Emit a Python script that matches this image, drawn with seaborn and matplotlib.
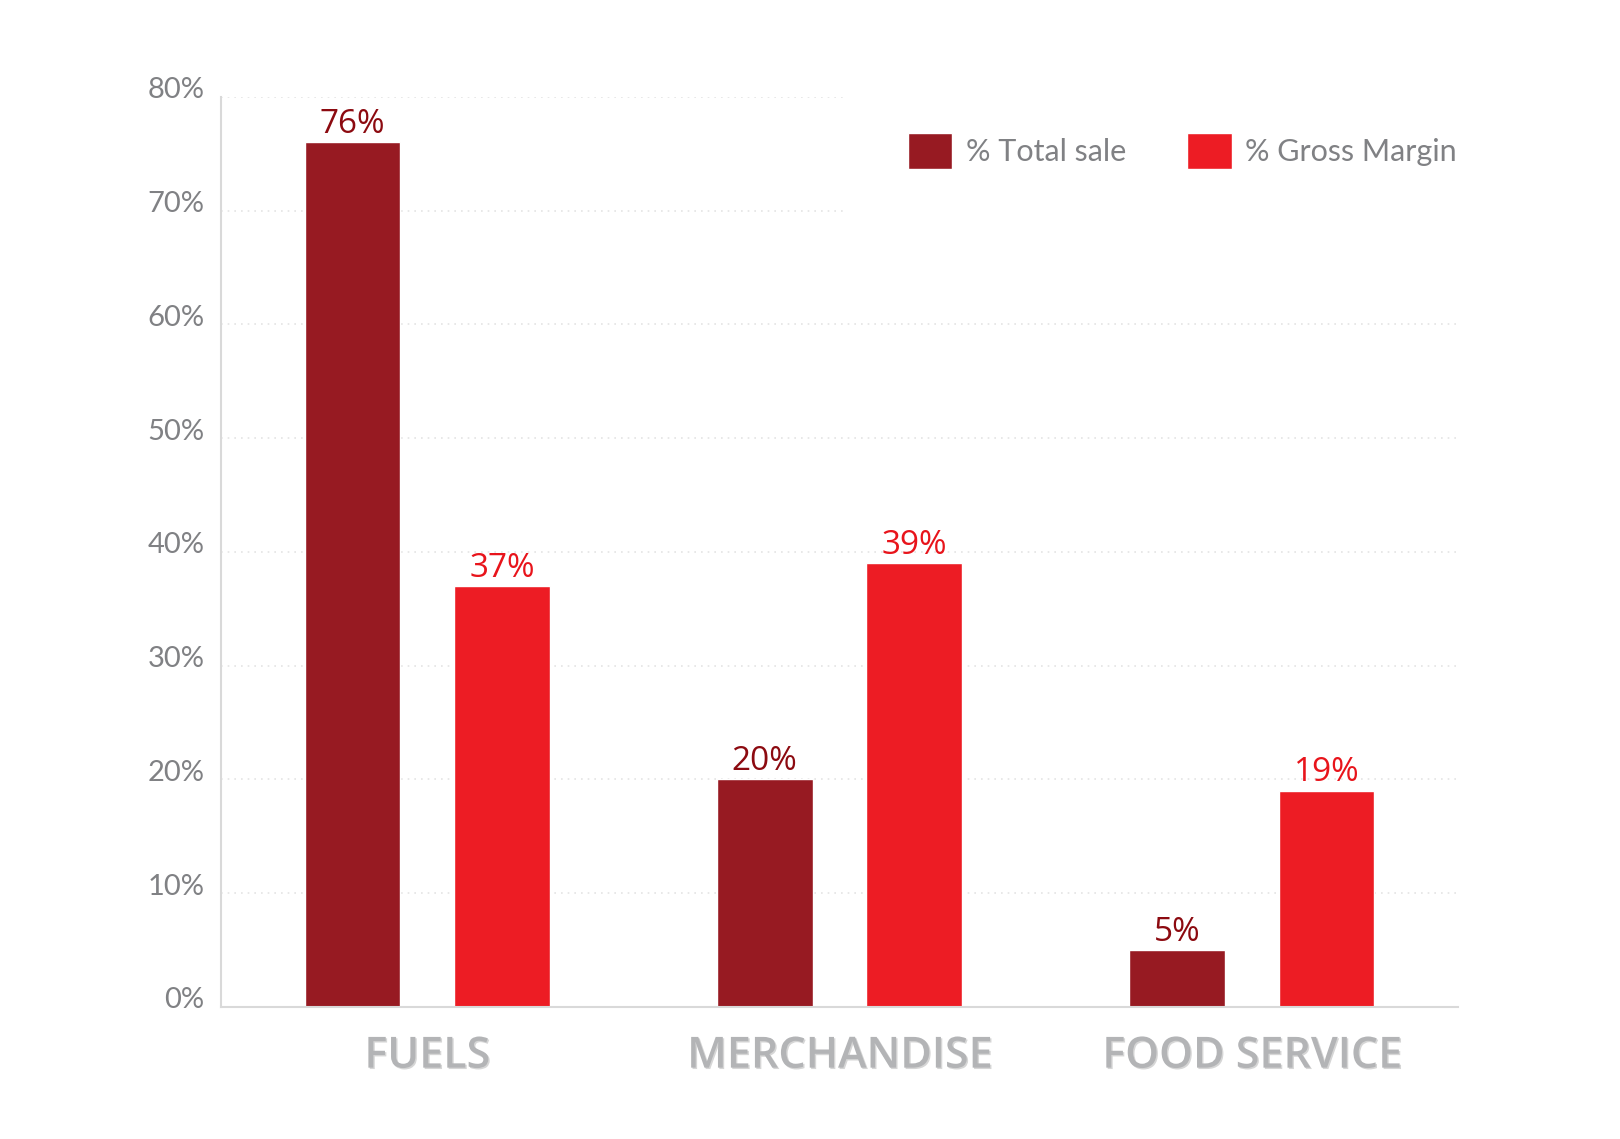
import matplotlib
matplotlib.use("Agg")
import matplotlib.pyplot as plt
import matplotlib.transforms as mtransforms
import matplotlib.patheffects as pe
import seaborn as sns
import pandas as pd

categories = ["FUELS", "MERCHANDISE", "FOOD SERVICE"]
series_names = ["% Total sale", "% Gross Margin"]
total_sale = [76, 20, 5]
gross_margin = [37, 39, 19]
y_ticks = [0, 10, 20, 30, 40, 50, 60, 70, 80]

dark = "#971a22"
light = "#ed1c24"
label_colors = ["#8c0a10", "#e8141b"]

rows = []
for c, v in zip(categories, total_sale):
    rows.append({"cat": c, "series": series_names[0], "val": v})
for c, v in zip(categories, gross_margin):
    rows.append({"cat": c, "series": series_names[1], "val": v})
df = pd.DataFrame(rows)

sns.set_theme(style="white")
plt.rcParams["font.family"] = ["Lato", "DejaVu Sans"]

fig = plt.figure(figsize=(16.2, 11.39), dpi=100)
ax = fig.add_axes([0.1364, 0.116, 0.900 - 0.1364, 0.915 - 0.116])

sns.barplot(data=df, x="cat", y="val", hue="series", order=categories,
            hue_order=series_names, palette=[dark, light], width=0.725,
            gap=0.36, saturation=1, ax=ax, legend=True)

ax.set_xlim(-0.5, 2.5)
ax.set_ylim(0, 80)
ax.set_yticks(y_ticks)
ax.set_yticklabels([f"{t}%" for t in y_ticks])
ax.set_xlabel("")
ax.set_ylabel("")

# grid
ax.yaxis.grid(True, color="#e4e4e4", linestyle=(0, (1, 3)), linewidth=1.2)
ax.set_axisbelow(True)
for s in ["top", "right"]:
    ax.spines[s].set_visible(False)
for s in ["left", "bottom"]:
    ax.spines[s].set_color("#d9d9d9")
    ax.spines[s].set_linewidth(1.5)

ax.tick_params(axis="y", length=0, pad=12, labelsize=21, labelcolor="#808184")
for lbl in ax.get_yticklabels():
    lbl.set_fontweight("normal")
    lbl.set_transform(lbl.get_transform() + mtransforms.ScaledTranslation(0, 0.09, fig.dpi_scale_trans))

ax.tick_params(axis="x", length=0, pad=20, labelsize=31, labelcolor="#b3b4b6")
for lbl in ax.get_xticklabels():
    lbl.set_fontfamily(["Open Sans", "DejaVu Sans"])
    lbl.set_fontweight("semibold")
    lbl.set_path_effects([pe.withSimplePatchShadow(offset=(1, -1), shadow_rgbFace="#8a8a8a", alpha=0.35)])

# value labels
for cont, col in zip(ax.containers, label_colors):
    ax.bar_label(cont, labels=[f"{int(v)}%" for v in cont.datavalues], padding=1,
                 fontsize=24, color=col, fontfamily=["Open Sans", "DejaVu Sans"])

# legend
leg = ax.legend(loc="upper right", bbox_to_anchor=(0.939, 0.9395),
                bbox_transform=fig.transFigure, ncol=2, frameon=True,
                fontsize=22, handlelength=1.45, handleheight=1.45,
                handletextpad=0.45, columnspacing=2.0, borderpad=2.1,
                borderaxespad=0)
leg.get_frame().set_facecolor("white")
leg.get_frame().set_edgecolor("none")
leg.get_frame().set_alpha(1)
for t in leg.get_texts():
    t.set_color("#808184")
    t.set_fontweight("normal")

fig.savefig("out.png", dpi=100, facecolor="white")
